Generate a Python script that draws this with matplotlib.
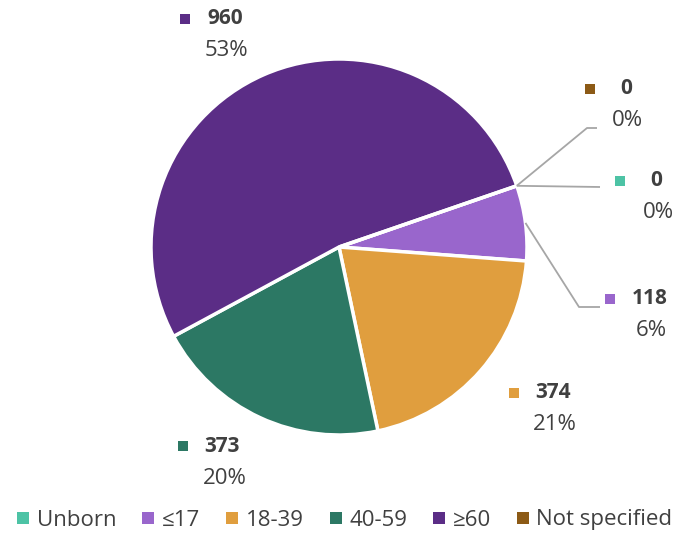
import matplotlib
matplotlib.use("Agg")
import matplotlib.pyplot as plt
import numpy as np

categories = ["Unborn", "≤17", "18-39", "40-59", "≥60", "Not specified"]
values = [0, 118, 374, 373, 960, 0]
percent_labels = ["0%", "6%", "21%", "20%", "53%", "0%"]
colors = ["#4DC3A5", "#9966CC", "#E09E3E", "#2C7864", "#5B2D86", "#8C5A16"]

# layout (pixel coords, y measured from top)
W, H = 679, 533
CX, CY, R = 339, 247, 188
label_pos = {  # (square x, value-text x, value y, pct center x)
    0: (620, 650, 181, 658),
    1: (610, 632, 299, 651),
    2: (514, 535, 393, 555),
    3: (183, 204, 446, 225),
    4: (185, 207, 19, 226),
    5: (590, 620, 89, 627),
}
leader_elbow = {0: (600, 187), 1: (579, 307), 5: (587, 128)}
leader_end = {0: (600, 187), 1: (600, 307), 5: (597, 128)}

plt.rcParams['font.family'] = ['Open Sans', 'DejaVu Sans']
fig = plt.figure(figsize=(W / 100, H / 100), dpi=100)
ax = fig.add_axes([0, 0, 1, 1])

total = sum(values)
start = 90 - 71  # degrees
ax.pie(values, colors=colors, startangle=start, counterclock=False,
       center=(CX, H - CY), radius=R, frame=True,
       wedgeprops=dict(edgecolor="white", linewidth=2.5))
ax.set_xlim(0, W)
ax.set_ylim(0, H)
ax.set_aspect("equal")
ax.axis("off")

def fy(y):
    return H - y

# mid angles (clockwise from top)
cum = 71.0
mids = []
for v in values:
    a = v / total * 360
    mids.append(cum + a / 2)
    cum += a

txtc = "#404040"
for i in range(len(values)):
    sx, vx, vy, px = label_pos[i]
    ax.scatter([sx], [fy(vy)], marker="s", s=55, color=colors[i], linewidths=0)
    ax.text(vx, fy(vy), f"{values[i]}", ha="left", va="center", fontsize=15,
            fontweight="bold", color=txtc)
    ax.text(px, fy(vy + 32), percent_labels[i], ha="center", va="center",
            fontsize=16, color=txtc)

for i, (ex, ey) in leader_elbow.items():
    th = np.deg2rad(mids[i])
    x0 = CX + R * np.sin(th)
    y0 = CY - R * np.cos(th)
    x2, y2 = leader_end[i]
    ax.plot([x0, ex, x2], [fy(y0), fy(ey), fy(y2)], color="#A6A6A6", lw=1.3,
            solid_capstyle="butt")

# legend
handles = [plt.Line2D([], [], marker="s", linestyle="", markersize=8,
                      markerfacecolor=c, markeredgewidth=0) for c in colors]
fig.legend(handles, categories, loc="center", bbox_to_anchor=(0.5 + 5 / W, 1 - 520 / H),
           ncol=6, frameon=False, fontsize=16, handlelength=0.6,
           handletextpad=0.3, columnspacing=1.15, labelcolor=txtc,
           borderpad=0, borderaxespad=0)

fig.savefig("out.png", dpi=100)
